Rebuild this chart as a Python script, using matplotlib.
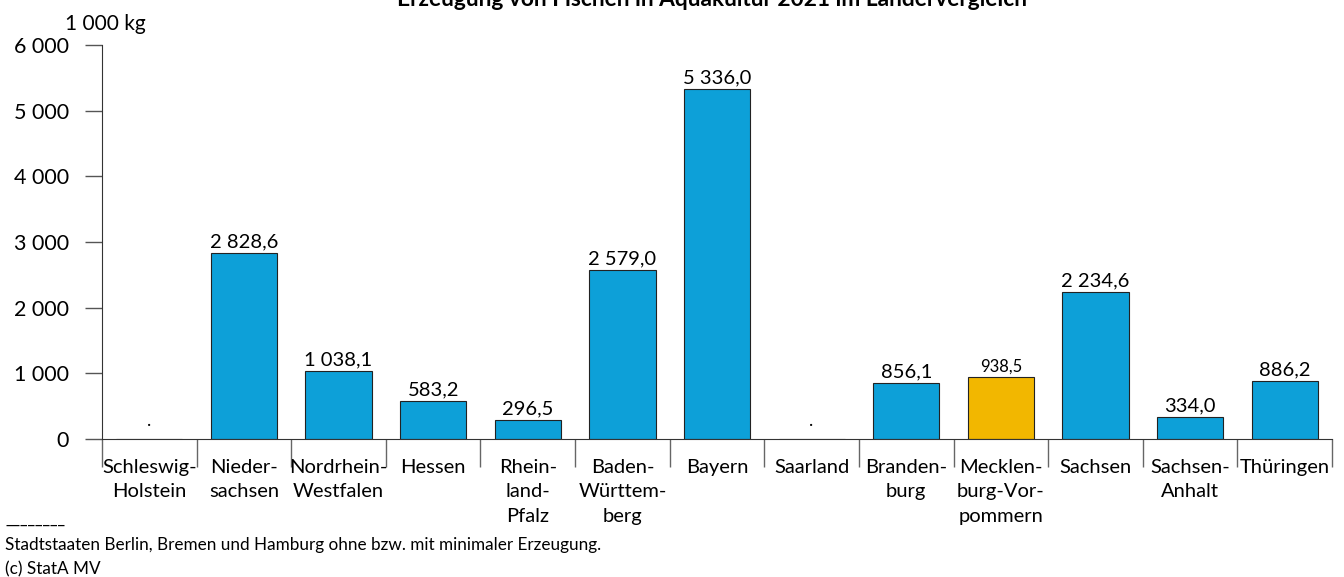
import matplotlib
matplotlib.use("Agg")
import matplotlib.pyplot as plt
import numpy as np

# Values in 1 000 kg; None = no value shown (".")
laender = ["Schleswig-\nHolstein", "Nieder-\nsachsen", "Nordrhein-\nWestfalen", "Hessen",
           "Rhein-\nland-\nPfalz", "Baden-\nWürttem-\nberg", "Bayern", "Saarland",
           "Branden-\nburg", "Mecklen-\nburg-Vor-\npommern", "Sachsen", "Sachsen-\nAnhalt",
           "Thüringen"]
werte = [None, 2828.6, 1038.1, 583.2, 296.5, 2579.0, 5336.0, None,
         856.1, 938.5, 2234.6, 334.0, 886.2]
highlight = "Mecklen-\nburg-Vor-\npommern"
y_ticks = [0, 1000, 2000, 3000, 4000, 5000, 6000]

BLUE = "#0da0d8"
YELLOW = "#f2b700"

plt.rcParams["font.family"] = ["Lato", "DejaVu Sans"]

fig = plt.figure(figsize=(13.44, 5.77), dpi=100)
ax = fig.add_axes([102 / 1344, 1 - 439 / 577, 1230 / 1344, 394 / 577])

x = np.arange(len(laender))
heights = [v if v is not None else 0 for v in werte]
colors = [YELLOW if l == highlight else BLUE for l in laender]
ax.bar(x, heights, width=0.7, color=colors, edgecolor="#222222", linewidth=0.8, zorder=2)

def fmt(v):
    return f"{v:,.1f}".replace(",", " ").replace(".", ",")

for xi, v, l in zip(x, werte, laender):
    if v is None:
        ax.text(xi, 150, ".", ha="center", va="bottom", fontsize=13)
    else:
        size = 12 if l == highlight else 14.5
        ax.text(xi, v + 40, fmt(v), ha="center", va="bottom", fontsize=size)

ax.set_xlim(-0.5, len(laender) - 0.5)
ax.set_ylim(0, 6000)
ax.set_yticks(y_ticks)
ax.set_yticklabels([f"{t:,}".replace(",", " ") for t in y_ticks], fontsize=15.5)
ax.tick_params(axis="y", length=12, width=1, color="#555555", pad=12)

# category labels centred, tick marks at category boundaries
ax.set_xticks(np.arange(len(laender) + 1) - 0.5)
ax.set_xticklabels([])
ax.tick_params(axis="x", length=20, width=1, color="#666666", direction="out")
for xi, l in zip(x, laender):
    ax.text(xi, -0.05, l, transform=ax.get_xaxis_transform(), ha="center", va="top",
            fontsize=14.5, linespacing=1.55)

for s in ["top", "right"]:
    ax.spines[s].set_visible(False)
ax.spines["left"].set_color("#333333")
ax.spines["bottom"].set_color("#333333")

fig.text(65 / 1344, 1 - 24 / 577, "1 000 kg", fontsize=15, va="center", ha="left")
fig.text(712 / 1344, 1 - 6 / 577, "Erzeugung von Fischen in Aquakultur 2021 im Ländervergleich",
         fontsize=16.4, fontweight="bold", ha="center", va="baseline")
fig.text(5 / 1344, 1 - 519 / 577, "________", fontsize=12, va="center", ha="left")
fig.text(5 / 1344, 1 - 545 / 577,
         "Stadtstaaten Berlin, Bremen und Hamburg ohne bzw. mit minimaler Erzeugung.",
         fontsize=12.3, va="center", ha="left")
fig.text(5 / 1344, 1 - 569 / 577, "(c) StatA MV", fontsize=12.3, va="center", ha="left")

fig.savefig("out.png", dpi=100)
